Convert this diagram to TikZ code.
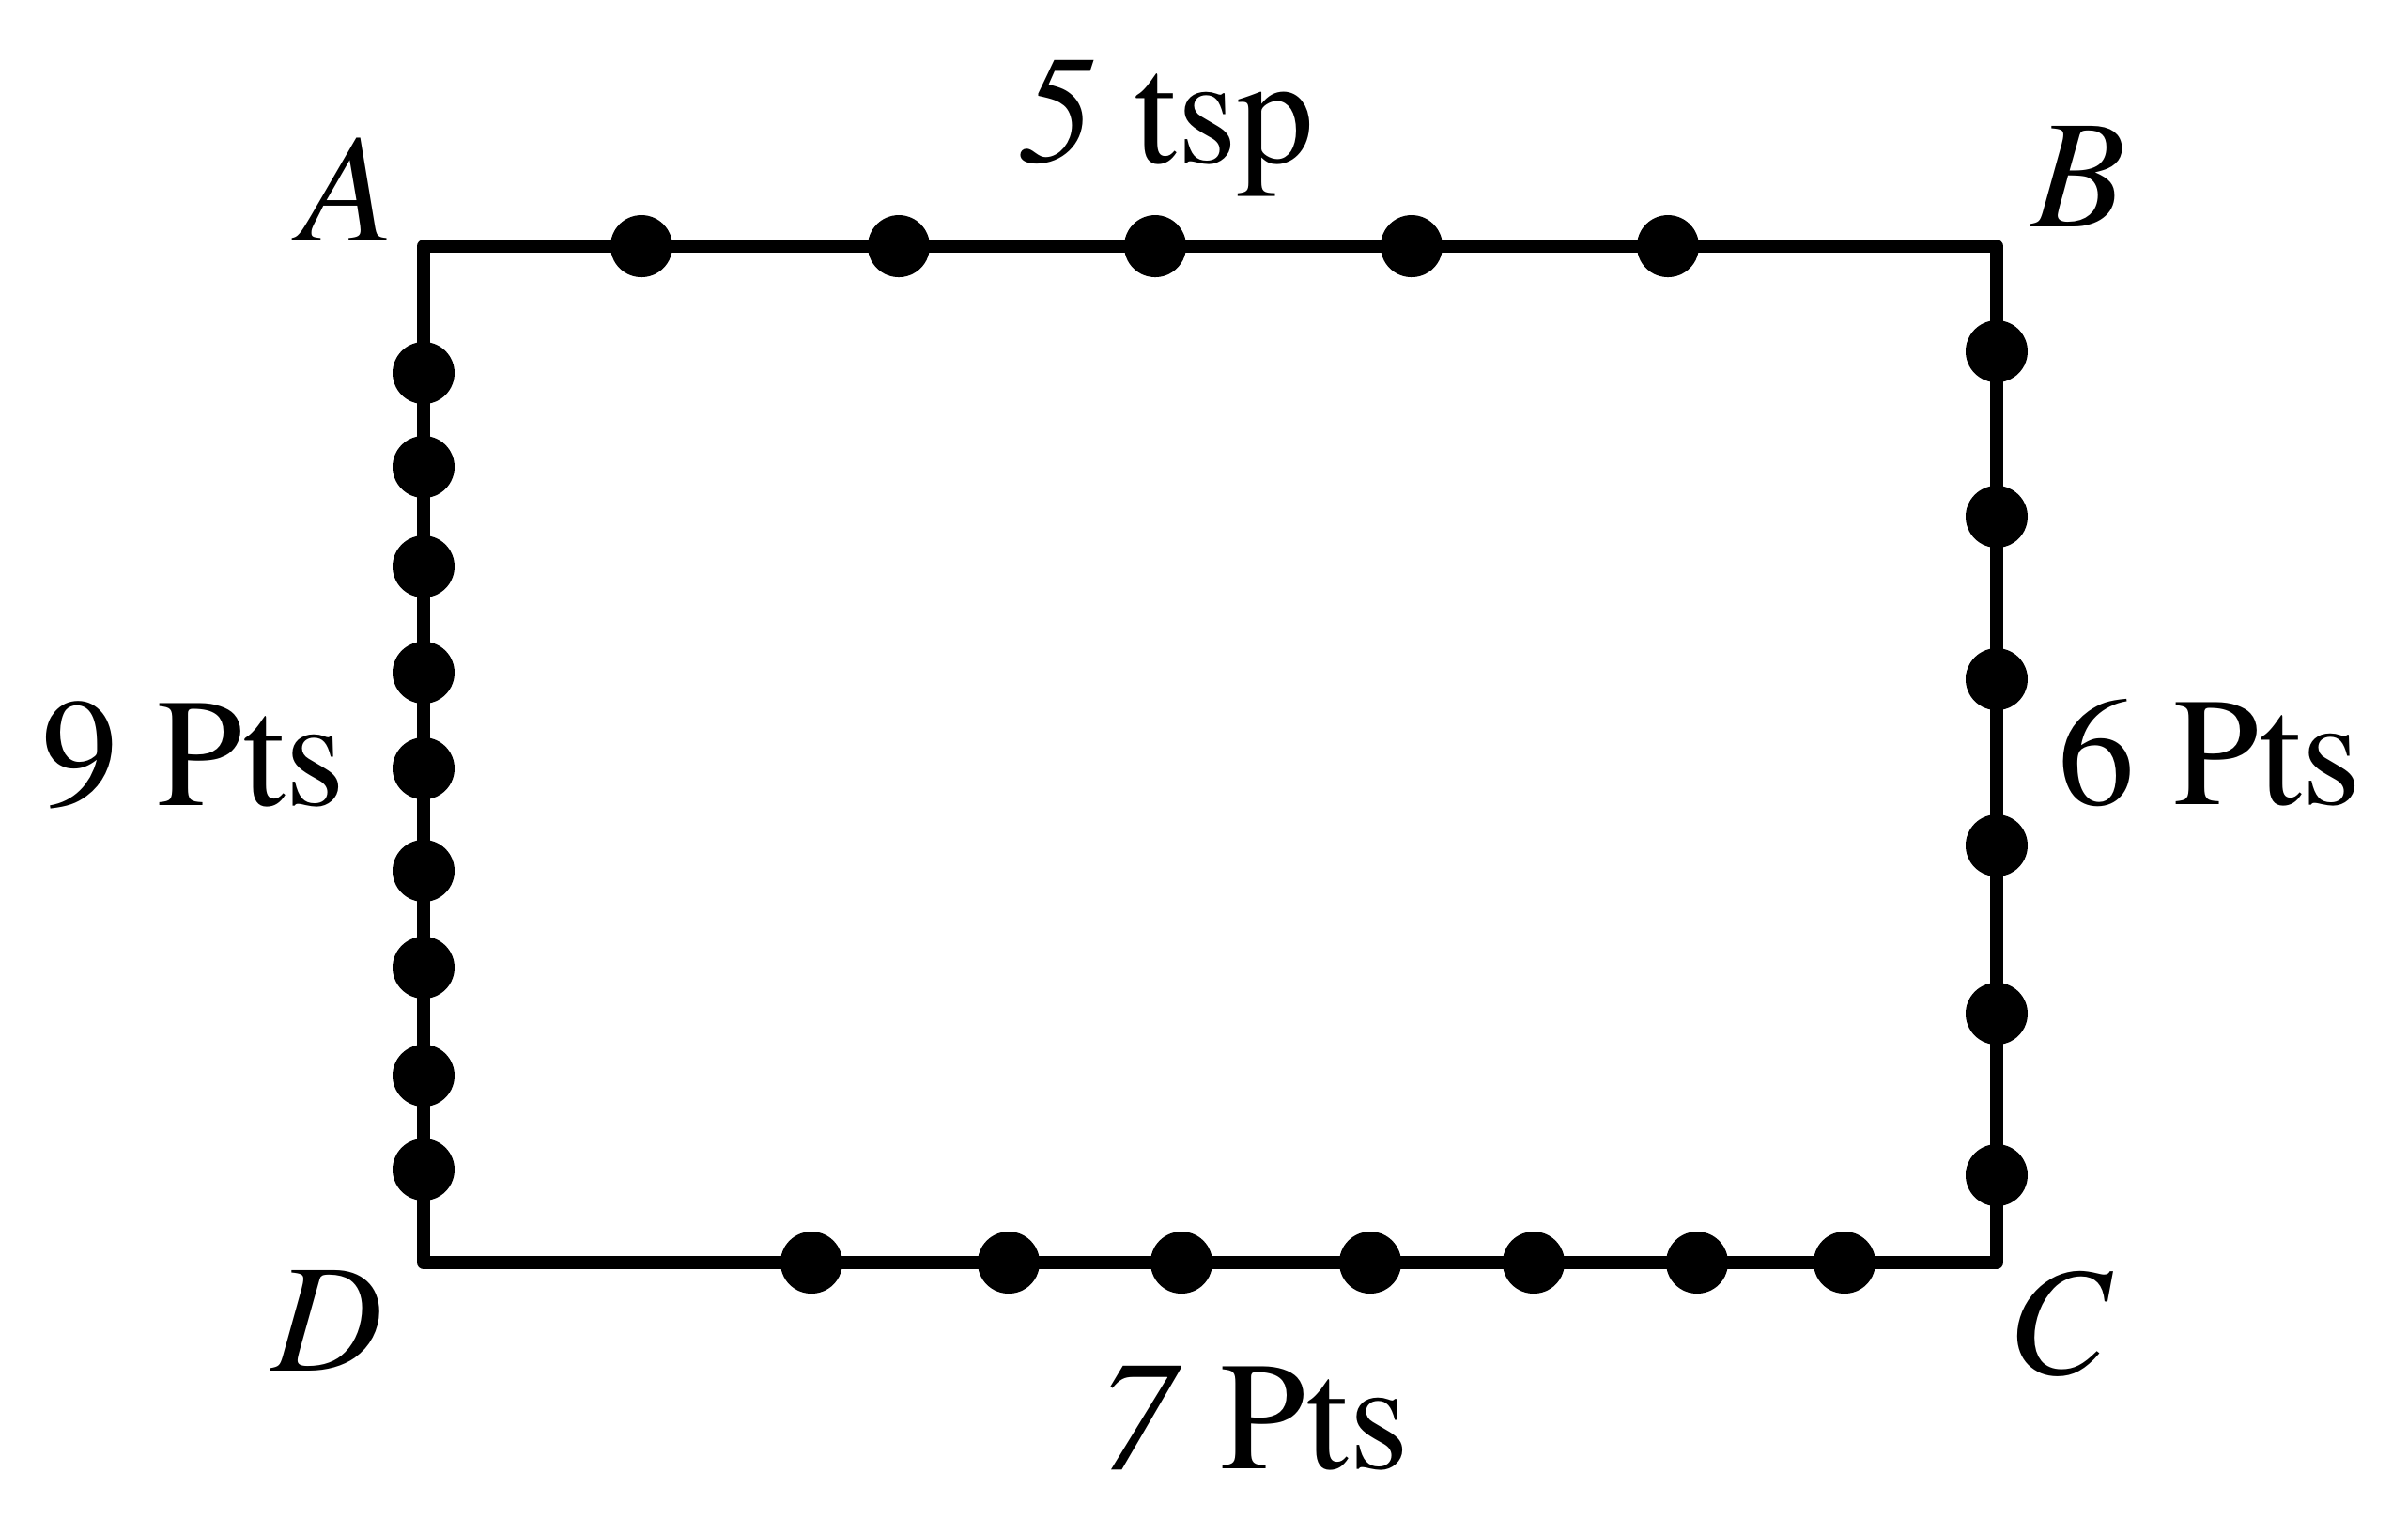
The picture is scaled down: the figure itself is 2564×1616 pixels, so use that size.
\documentclass[tikz,border=0pt]{standalone}
\usepackage{fontspec}
\setmainfont{texgyretermes}[Extension=.otf,UprightFont=*-regular,ItalicFont=*-italic,BoldFont=*-bold,BoldItalicFont=*-bolditalic]
\begin{document}
\begin{tikzpicture}[x=0.1pt,y=-0.1pt,
  edge/.style={line width=1.35pt,line join=round},
  pt/.style={circle,fill=black,inner sep=0pt,minimum size=6.6pt},
  lbl/.style={anchor=base,inner sep=0pt,font=\fontsize{16.4}{20}\selectfont}]
\useasboundingbox (0,0) rectangle (2564,1616);
\coordinate (A) at (451,262);
\coordinate (B) at (2126,262);
\coordinate (C) at (2126,1344);
\coordinate (D) at (451,1344);
\draw[edge] (A) -- (B) -- (C) -- (D) -- cycle;
% top: 5
\foreach \x [count=\i] in {683,957,1230,1503,1776}
  \node[pt] (t\i) at (\x,262) {};
% left: 9
\foreach \y [count=\i] in {397,497,603,716,818,927,1030,1145,1245}
  \node[pt] (l\i) at (451,\y) {};
% right: 6
\foreach \y [count=\i] in {374,550,723,900,1079,1251}
  \node[pt] (r\i) at (2126,\y) {};
% bottom: 7
\foreach \x [count=\i] in {864,1074,1258,1459,1633,1807,1964}
  \node[pt] (b\i) at (\x,1344) {};
\node[lbl] (lA) at (370,256) {\textit{A}};
\node[lbl] (lB) at (2214,241) {\textit{B}};
\node[lbl] (lC) at (2194,1462) {\textit{C}};
\node[lbl] (lD) at (349,1459) {\textit{D}};
\node[lbl] (top) at (1242,173) {\textit{5} tsp};
\node[lbl] (left) at (206,857) {9 Pts};
\node[lbl] (right) at (2353,856) {6 Pts};
\node[lbl] (bottom) at (1335,1563) {\textit{7} Pts};
\end{tikzpicture}
\end{document}
